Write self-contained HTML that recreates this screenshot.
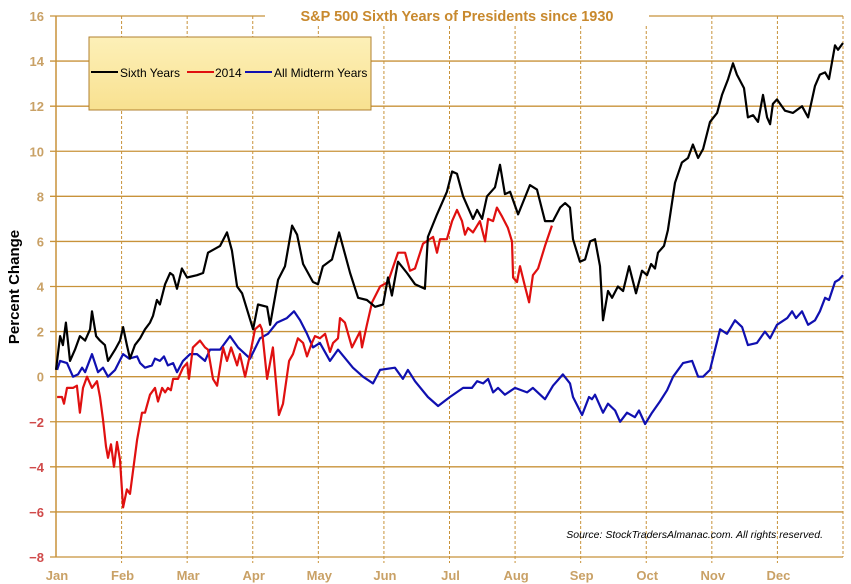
<!DOCTYPE html>
<html><head><meta charset="utf-8"><style>
html,body{margin:0;padding:0;background:#fff;}
svg{display:block;font-family:"Liberation Sans",Arial,sans-serif;}
</style></head><body>
<svg id="chart" width="851" height="584" viewBox="0 0 851 584" xmlns="http://www.w3.org/2000/svg">
<g id="grid"></g>
<g id="axes"></g>
<g id="series"></g>
<rect x="265" y="5" width="384" height="20" fill="#fff"/>
<text x="457" y="21" text-anchor="middle" font-size="14.5" font-weight="bold" fill="#c8892e">S&amp;P 500 Sixth Years of Presidents since 1930</text>
<text transform="translate(19,287) rotate(-90)" text-anchor="middle" font-size="15" font-weight="bold" fill="#000">Percent Change</text>
<defs><linearGradient id="lg" x1="0" y1="0" x2="0" y2="1"><stop offset="0" stop-color="#fdf0b8"/><stop offset="1" stop-color="#f8e190"/></linearGradient></defs>
<g>
<rect x="89" y="37" width="282" height="73" fill="url(#lg)" stroke="#b08030" stroke-width="1"/>
<g><line x1="91" y1="72" x2="118" y2="72" stroke="#000" stroke-width="2"/><text x="120" y="77" font-size="12" fill="#000">Sixth Years</text></g>
<g><line x1="187" y1="72" x2="214" y2="72" stroke="#e01010" stroke-width="2"/><text x="215" y="77" font-size="12" fill="#000">2014</text></g>
<g><line x1="245" y1="72" x2="272" y2="72" stroke="#1010b0" stroke-width="2"/><text x="274" y="77" font-size="12" fill="#000">All Midterm Years</text></g>
</g>
<text x="823" y="538" text-anchor="end" font-size="10.5" font-style="italic" fill="#000">Source:  StockTradersAlmanac.com. All rights reserved.</text>
<script>
const months = ["Jan","Feb","Mar","Apr","May","Jun","Jul","Aug","Sep","Oct","Nov","Dec"];
const yTicks = [16,14,12,10,8,6,4,2,0,-2,-4,-6,-8];
const sixthDays = [0,1.9,3.2,4.6,6.5,8.8,11.1,13.5,15.8,16.7,18.6,20.4,22.7,24.1,27.4,29.7,31.1,32.9,34.3,36.6,39,41.3,43.6,45,46.8,48.2,50.6,52.9,54.3,56.1,58.4,60.8,65.4,68.2,70.5,76.1,79.3,81.6,84,86.3,91.4,93.7,97.9,99.3,103,106.2,109.5,111.8,114.6,119.2,121.5,123.8,128,131.3,136.4,140.1,144.2,148,151.7,154,155.8,158.6,162.8,166.5,171.1,172.5,176.7,181.3,183.7,186,188.8,193.4,195.3,197.6,199.9,203.6,205.9,208.2,210.6,214.3,219.8,223.1,226.8,230.5,233.8,236.1,238.4,239.8,243,245.4,247.7,250,252.3,253.7,256,257.9,260.6,263,265.8,269,271.8,274.1,276,277.8,279.2,282,283.8,287.1,290.3,293.1,295.4,297.8,300.1,303.3,306.6,308.9,311.7,314,315.8,319.1,320.9,323.3,325.6,327.9,329.8,331.2,332.5,334.4,338.1,341.8,346,348.8,352,354.3,356.7,358.5,361.3,362.7,365];
const sixthVals = [0.3,1.8,1.4,2.4,0.7,1.2,1.8,1.6,2.1,2.9,1.8,1.6,1.4,0.7,1.2,1.6,2.2,1.4,0.8,1.4,1.7,2.1,2.4,2.7,3.4,3.2,4.1,4.6,4.5,3.9,4.8,4.4,4.5,4.6,5.5,5.8,6.4,5.6,4,3.7,2.1,3.2,3.1,2.3,4.3,4.9,6.7,6.3,5,4.2,4.1,4.9,5.2,6.4,4.6,3.5,3.4,3.1,3.2,4.4,3.6,5.1,4.6,4.1,3.9,6.2,7.2,8.2,9.1,9,8,7,7.4,7,8,8.4,9.4,8.1,8.2,7.2,8.5,8.3,6.9,6.9,7.5,7.7,7.5,6.1,5.1,5.2,6,6.1,4.9,2.5,3.8,3.5,4,3.8,4.9,3.7,4.7,4.5,5,4.8,5.5,5.8,6.5,8.6,9.5,9.7,10.3,9.7,10.1,11.3,11.7,12.5,13.2,13.9,13.4,12.8,11.5,11.6,11.3,12.5,11.5,11.2,12.1,12.3,11.8,11.7,12,11.5,12.9,13.4,13.5,13.2,14.7,14.5,14.8];
const y2014Days = [0.5,2.8,3.7,5.1,7.9,9.7,11.1,12.5,14.4,16.7,19,20.4,21.8,23.2,24.1,25.5,26.9,28.3,29.7,31.1,32.9,34.3,37.6,39.9,41.3,43.6,45.9,47.3,49.2,50.6,51.9,53.3,54.3,56.6,58.9,60.8,61.7,63.5,66.8,69.1,70.5,72.8,74.7,77.5,79.3,81.2,84,85.3,87.7,90,92.3,94.6,95.5,97.9,100.6,103.4,105.3,108.1,109.9,112.2,114.6,116.4,118.7,120.1,122.4,124.8,127.1,128.5,130.8,131.7,134,137.3,141,141.9,144.2,146.6,150.3,154,158.6,161.9,164.2,166.5,170.2,174.9,176.7,178.1,181.3,183.7,186,188.3,189.7,191.1,193.4,196.6,199,200.4,202.7,204.5,206.9,209.6,211.5,212,213.8,215.2,217.5,219.4,221.2,223.6,226.8,230];
const y2014Vals = [-0.9,-0.9,-1.2,-0.5,-0.5,-0.4,-1.6,-0.5,0,-0.5,-0.2,-0.9,-1.9,-3.1,-3.6,-3,-4,-2.9,-3.7,-5.8,-5,-5.2,-2.8,-1.6,-1.6,-0.8,-0.5,-1.1,-0.5,-0.7,-0.5,-0.6,-0.1,-0.1,0.4,0.6,-0.1,1.3,1.6,1.3,1.2,-0.1,-0.4,1.3,0.7,1.3,0.5,1,0,1,2.1,2.3,2.1,-0.1,1.3,-1.7,-1.2,0.7,1,1.7,1.5,0.9,1.5,1.8,1.7,1.9,1.1,1.5,1.7,2.6,2.4,1.3,2,1.3,2.3,3.3,4,4.2,5.5,5.5,4.7,4.8,5.9,6.2,5.5,6.1,6.1,6.9,7.4,6.9,6.3,6.6,6.4,6.9,6,7,6.9,7.5,7.1,6.6,6,4.4,4.2,4.9,4,3.3,4.5,4.8,5.8,6.7];
const midDays = [0.5,1.9,5.1,7.9,10.2,12.1,13.5,16.7,19.5,21.8,24.1,27.4,31.1,33.9,37.6,39,41.3,44.5,45.9,48.2,50.1,51.9,54.3,56.1,58.9,62.2,65.4,69.1,71.4,76.1,80.7,84.4,90,94.6,98.3,102.5,107.1,110.4,113.2,116.4,119.2,122.4,127.1,130.8,137.7,142.4,147,150.3,157.2,160.9,163.2,166.5,172.5,177.2,182.7,188.8,192.9,195.3,198.1,200.4,202.7,205,208.2,212.9,218.5,221.2,226.8,230.5,235.1,238.4,239.8,244,247.2,248.6,250,253.7,256,259.3,261.6,264.8,268.5,270.4,273.2,276.4,280.1,283.4,286.2,290.8,295,297.8,300.1,303.3,308,311.2,314.9,318.2,320.9,325.1,328.8,331.2,334.4,339.1,341.4,343.2,346,348.8,352,354.3,356.7,358.5,361.3,363.1,365];
const midVals = [0.3,0.7,0.6,0,0.1,0.4,0.2,1,0.2,0.4,0,0.3,1,0.8,0.9,0.6,0.4,0.5,0.8,0.7,0.9,0.5,0.6,0.2,0.7,1,1,0.7,1.2,1.2,1.8,1.3,0.8,1.7,1.9,2.4,2.6,2.9,2.5,1.9,1.3,1.5,0.7,1.2,0.4,0,-0.3,0.3,0.4,-0.1,0.3,-0.2,-0.9,-1.3,-0.9,-0.5,-0.5,-0.2,-0.3,-0.1,-0.7,-0.5,-0.8,-0.5,-0.7,-0.5,-1,-0.4,0.1,-0.3,-0.9,-1.7,-0.9,-1,-0.8,-1.6,-1.2,-1.5,-2,-1.6,-1.8,-1.5,-2.1,-1.6,-1.1,-0.6,0,0.6,0.7,0,0,0.3,2.1,1.9,2.5,2.2,1.4,1.5,2,1.7,2.3,2.6,2.9,2.6,2.9,2.3,2.5,2.9,3.5,3.4,4.2,4.3,4.5];

const L=56,R=843,T=16,B=557,yMin=-8,yMax=16;
const xS=d=>L+d/365*(R-L);
const yS=v=>T+(yMax-v)/(yMax-yMin)*(B-T);
const NS="http://www.w3.org/2000/svg";
function mk(tag,attrs,parent){const e=document.createElementNS(NS,tag);for(const k in attrs)e.setAttribute(k,attrs[k]);parent.appendChild(e);return e;}
const grid=document.getElementById('grid'),axes=document.getElementById('axes'),ser=document.getElementById('series');
yTicks.forEach(v=>{
  const gl=mk('line',{x1:L-6,x2:R,y1:yS(v),y2:yS(v),stroke:'#c8923a','stroke-width':1.3},grid);
  
  
  const t=mk('text',{x:44,y:yS(v)+5,'text-anchor':'end','font-size':13,'font-weight':'bold',fill:v<0?'#d04a4a':'#c9a166'},axes);
  t.textContent=v<0?'\u2212'+(-v):String(v);
  
  
});
months.forEach((m,i)=>{
  const x=L+i*(R-L)/12;
  if(i>0){const gl=mk('line',{x1:x,x2:x,y1:T,y2:B+6,stroke:'#c8923a','stroke-width':1,'stroke-dasharray':'3,2'},grid);
  
  }
  const t=mk('text',{x:x+1,y:580,'text-anchor':'middle','font-size':13,'font-weight':'bold',fill:'#c9a166'},axes);
  t.textContent=m;
  
  
});
const rl=mk('line',{x1:R,x2:R,y1:T,y2:B,stroke:'#c8923a','stroke-width':1,'stroke-dasharray':'3,2'},grid);


const ax=mk('line',{x1:L,x2:L,y1:T,y2:B,stroke:'#c8923a','stroke-width':1.5},axes);


function draw(days,vals,color,name){
  const d=days.map((dd,i)=>(i?'L':'M')+xS(dd).toFixed(1)+','+yS(vals[i]).toFixed(1)).join('');
  const p=mk('path',{d:d,fill:'none',stroke:color,'stroke-width':2.2,'stroke-linejoin':'round'},ser);
  
  
}
draw(midDays,midVals,'#1010b0','all-midterm-years-line');
draw(y2014Days,y2014Vals,'#e01010','2014-line');
draw(sixthDays,sixthVals,'#000000','sixth-years-line');
</script>
</svg>
</body></html>
